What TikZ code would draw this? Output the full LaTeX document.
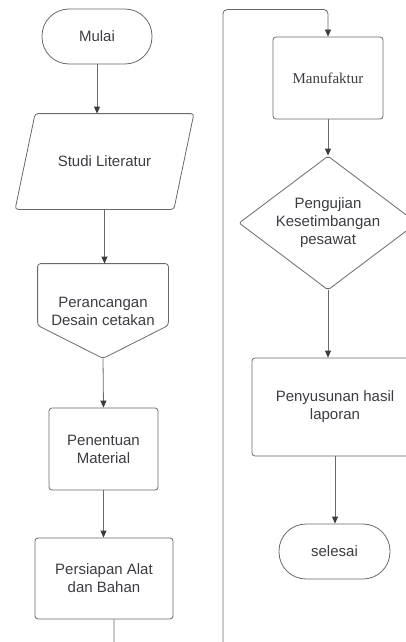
\documentclass[tikz,border=0pt]{standalone}
\usepackage{fontspec}
\setmainfont{Liberation Sans}
\newfontfamily\manufont{Liberation Serif}
\usetikzlibrary{positioning, arrows.meta, shapes.geometric}
\definecolor{edgegray}{RGB}{105,105,105}
\definecolor{inkgray}{RGB}{58,60,66}

\begin{document}
\begin{tikzpicture}[x=1pt, y=-1pt, node distance=1cm, on grid, line width=0.8pt]
      \tikzstyle{every node}=[text=inkgray, font=\fontsize{15}{18}\selectfont, align=center]
      \tikzstyle{box}=[draw=edgegray, rectangle, rounded corners=3pt, inner sep=2pt]
      \tikzstyle{terminal}=[draw=edgegray, rectangle, rounded corners=27pt, minimum width=110pt, minimum height=55pt]
      \tikzstyle{io}=[rectangle, minimum width=158pt, minimum height=95pt]
      \tikzstyle{offpage}=[rectangle, minimum width=130pt, minimum height=94pt]
      \tikzstyle{decision}=[draw=edgegray, diamond, aspect=1.33, minimum width=178pt, minimum height=134pt, inner sep=0pt, rounded corners=2pt]
      \tikzstyle{outline}=[draw=edgegray, rounded corners=3pt]
      \tikzstyle{flow}=[draw=edgegray, -{Triangle[length=7pt, width=6pt, color=inkgray]}]

      \useasboundingbox (0,0) rectangle (406,642);
      \clip (0,0) rectangle (406,642);

      % Left column
      \node[terminal]  (mulai) at (97,36.5) {Mulai};
      \node[io]        (studi) [below=125pt of mulai, xshift=7.5pt] {Studi Literatur};
      \node[offpage]   (desain) [below=149.5pt of studi, xshift=-1.5pt] {Perancangan\\Desain cetakan};
      \node[box, minimum width=109pt, minimum height=82pt] (material) [below=138pt of desain, xshift=0.5pt] {Penentuan\\Material};
      \node[box, minimum width=138pt, minimum height=81pt] (persiapan) [below=129.5pt of material, xshift=0.5pt] {Persiapan Alat\\dan Bahan};

      % Right column
      \node[box, minimum width=110pt, minimum height=82pt, font=\manufont\fontsize{15}{18}\selectfont] (manufaktur) at (328,78) {Manufaktur};
      \node[decision]  (uji) [below=145pt of manufaktur] {Pengujian\\Kesetimbangan\\pesawat};
      \node[box, minimum width=166pt, minimum height=98pt] (susun) [below=184pt of uji, xshift=7pt] {Penyusunan hasil\\laporan};
      \node[terminal, minimum width=111pt] (selesai) [below=144.5pt of susun, xshift=-0.5pt] {selesai};

      % Shapes
      \draw[outline] ([xshift=10pt]studi.north west) -- ([xshift=10pt]studi.north east)
        -- ([xshift=-10pt]studi.south east) -- ([xshift=-10pt]studi.south west) -- cycle;
      \draw[outline] (desain.south) -- ([yshift=33pt]desain.south west) -- (desain.north west)
        -- (desain.north east) -- ([yshift=33pt]desain.south east) -- cycle;

      \coordinate (balik) at (223,662);

      % Edges
      \draw[flow] (mulai.south) -- (mulai.south |- studi.north);
      \draw[flow] (studi.south) -- (studi.south |- desain.north);
      \draw[flow] (desain.south) -- (material.north);
      \draw[flow] (material.south) -- (material.south |- persiapan.north);
      \draw[flow, rounded corners=4pt] ([xshift=10pt]persiapan.south) |- (balik) |- ([yshift=27pt]manufaktur.north) -- (manufaktur.north);
      \draw[flow] (manufaktur.south) -- (uji.north);
      \draw[flow] (uji.south) -- (uji.south |- susun.north);
      \draw[flow] (susun.south) -- (susun.south |- selesai.north);
\end{tikzpicture}
\end{document}
